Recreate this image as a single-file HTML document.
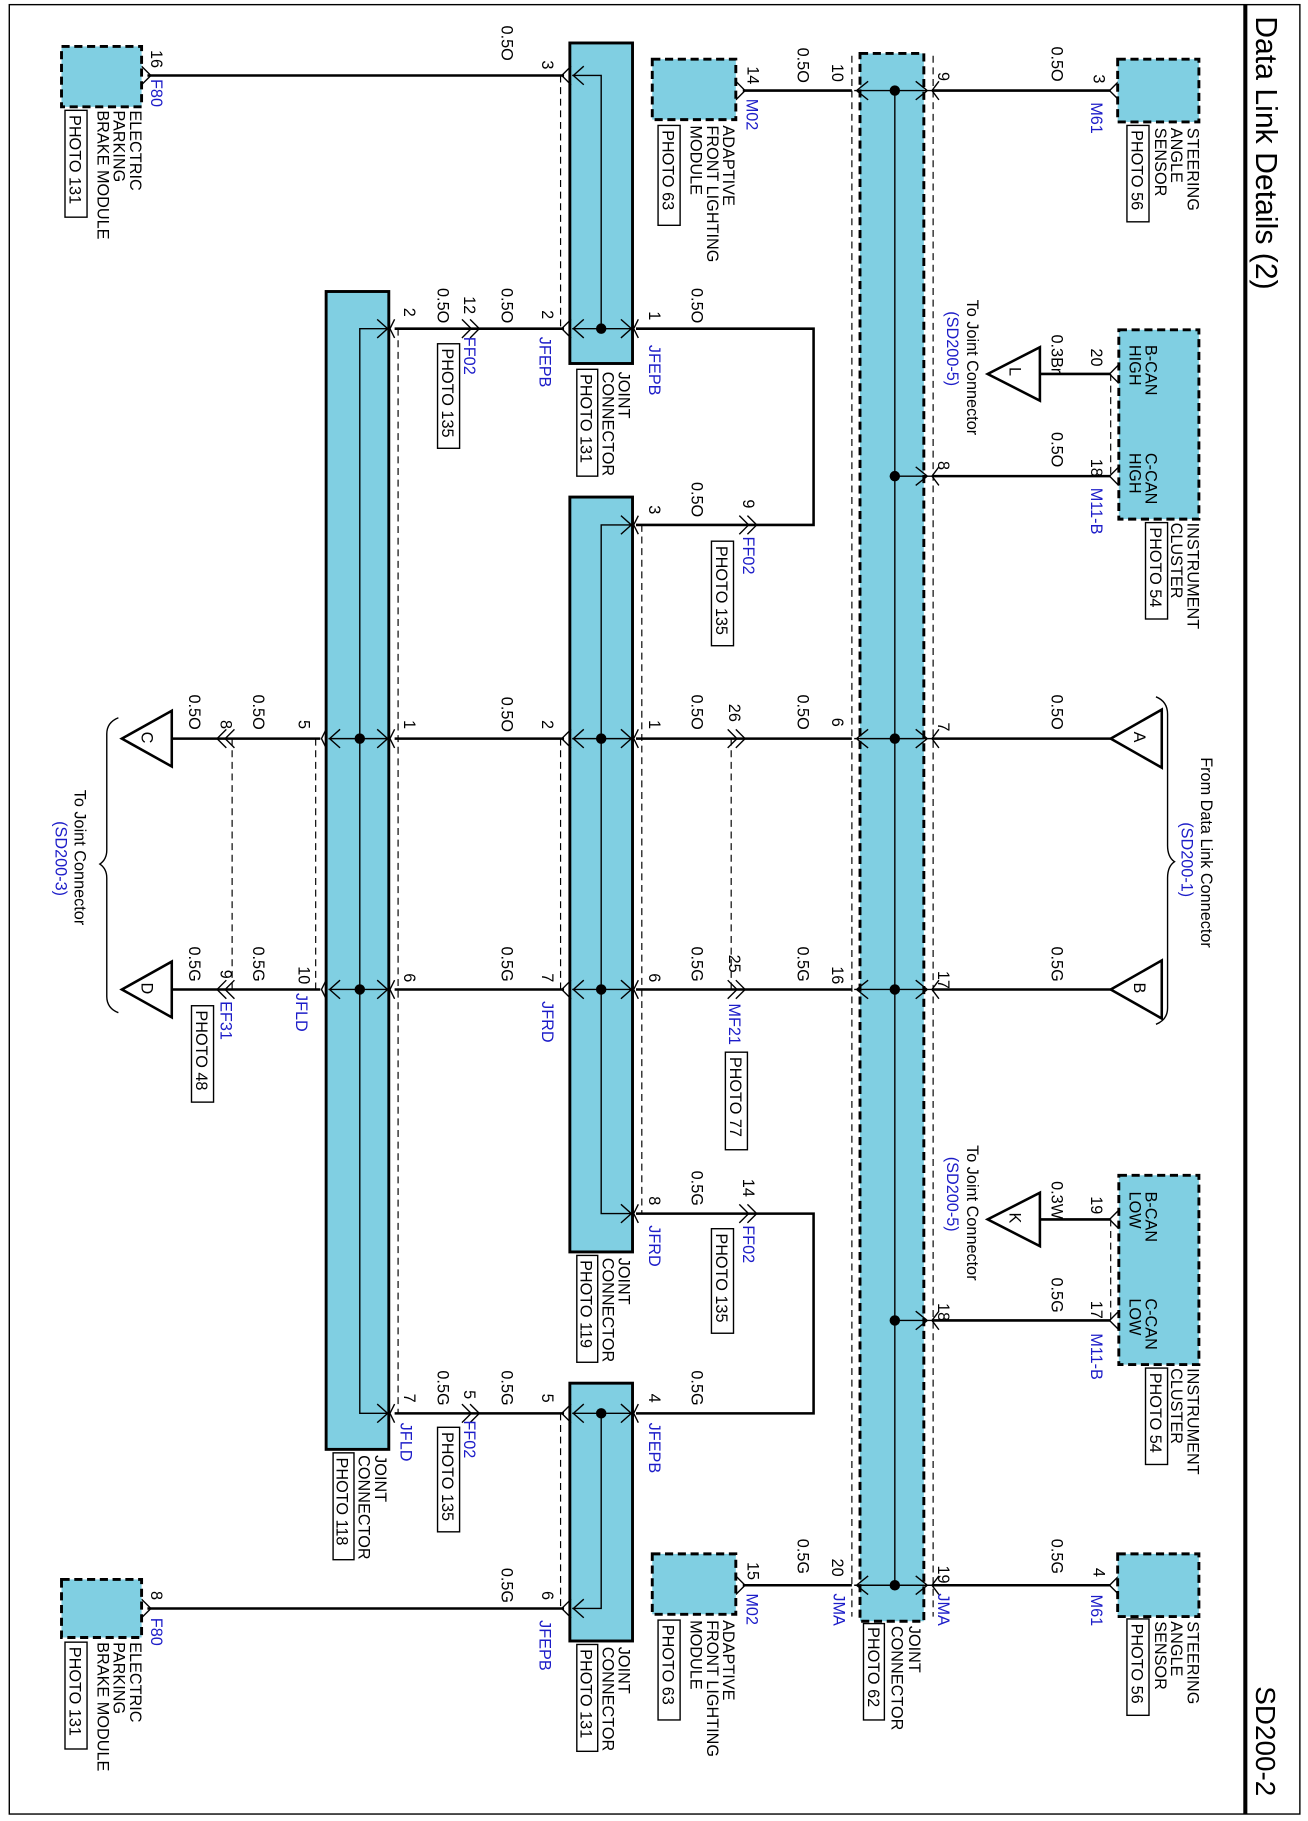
<!DOCTYPE html>
<html><head><meta charset="utf-8"><style>
html,body{margin:0;padding:0;background:#fff}
svg{display:block}
text{font-family:"Liberation Sans",Arial,sans-serif;font-size:14px;fill:#000}
.b{fill:#1c1cc8}
.ti{font-size:26px}
.ti2{font-size:24px}
.w{stroke:#000;stroke-width:2.2;fill:none}
.tn{stroke:#000;stroke-width:1.2;fill:none}
.d{stroke:#000;stroke-width:1;stroke-dasharray:6 4;fill:none}
.cb{fill:#80cfe2;stroke:#000;stroke-width:2.5}
.cd{fill:#80cfe2;stroke:#000;stroke-width:2.5;stroke-dasharray:7 4}
.pb{fill:#fff;stroke:#000;stroke-width:1.2}
.tri{fill:#fff;stroke:#000;stroke-width:2.2}
</style></head><body>
<svg width="1308" height="1821" viewBox="0 0 1127 1568" preserveAspectRatio="none" xmlns="http://www.w3.org/2000/svg">
<rect x="8" y="4" width="1112" height="1558" fill="none" stroke="#000" stroke-width="1.2"/>
<line x1="1073" y1="4" x2="1073" y2="1562" stroke="#000" stroke-width="3.5"/>
<text class="ti" transform="translate(1082,14) rotate(90)">Data Link Details (2)</text>
<text class="ti2" transform="translate(1082,1452) rotate(90)">SD200-2</text>

<!-- JMA block -->
<line class="d" x1="734" y1="48" x2="734" y2="1392"/>
<line class="d" x1="804" y1="48" x2="804" y2="1392"/>
<rect class="cd" x="741" y="46" width="55" height="1350"/>
<line class="tn" x1="771" y1="78" x2="771" y2="1365"/>
<g class="tn">
<path d="M736 78H803 M748 70L738 78L748 86 M789 70L799 78L789 86"/>
<path d="M771 410H803 M789 402L799 410L789 418"/>
<path d="M736 636H803 M748 628L738 636L748 644 M789 628L799 636L789 644"/>
<path d="M736 852H803 M748 844L738 852L748 860 M789 844L799 852L789 860"/>
<path d="M771 1137H803 M789 1129L799 1137L789 1145"/>
<path d="M736 1365H803 M748 1357L738 1365L748 1373 M789 1357L799 1365L789 1373"/>
</g>
<g fill="#000"><circle cx="771" cy="78" r="4.5"/><circle cx="771" cy="410" r="4.5"/><circle cx="771" cy="636" r="4.5"/><circle cx="771" cy="852" r="4.5"/><circle cx="771" cy="1137" r="4.5"/><circle cx="771" cy="1365" r="4.5"/></g>
<text transform="translate(783,1400) rotate(90)">JOINT</text>
<text transform="translate(768,1400) rotate(90)">CONNECTOR</text>
<rect class="pb" x="744" y="1398" width="18" height="83"/>
<text transform="translate(748,1401) rotate(90)">PHOTO 62</text>
<text class="b" transform="translate(718,1372) rotate(90)">JMA</text>
<text class="b" transform="translate(808,1372) rotate(90)">JMA</text>

<!-- right side wires -->
<g class="w">
<path d="M803 78H957"/><path d="M803 410H957"/><path d="M803 636H957"/><path d="M803 852H957"/><path d="M803 1137H957"/><path d="M803 1365H957"/>
<path d="M896 322H957"/><path d="M896 1050H957"/>
</g>
<g class="tn"><path d="M964 70L956 78L964 86"/><path d="M964 402L956 410L964 418"/><path d="M964 314L956 322L964 330"/><path d="M964 1129L956 1137L964 1145"/><path d="M964 1042L956 1050L964 1058"/><path d="M964 1357L956 1365L964 1373"/>
<path d="M809 70L803 78L809 86"/><path d="M809 402L803 410L809 418"/><path d="M809 628L803 636L809 644"/><path d="M809 844L803 852L809 860"/><path d="M809 1129L803 1137L809 1145"/><path d="M809 1357L803 1365L809 1373"/></g>
<line class="d" x1="957" y1="322" x2="957" y2="410"/>
<line class="d" x1="957" y1="1050" x2="957" y2="1137"/>
<text transform="translate(808,62) rotate(90)">9</text>
<text transform="translate(906,40) rotate(90)">0.5O</text>
<text transform="translate(942,64) rotate(90)">3</text>
<text class="b" transform="translate(940,88) rotate(90)">M61</text>
<rect class="cd" x="963" y="51" width="70" height="54"/>
<text transform="translate(1023,110) rotate(90)">STEERING</text>
<text transform="translate(1009,110) rotate(90)">ANGLE</text>
<text transform="translate(995,110) rotate(90)">SENSOR</text>
<rect class="pb" x="971" y="108" width="19" height="83"/>
<text transform="translate(975,112) rotate(90)">PHOTO 56</text>

<rect class="cd" x="964" y="284" width="69" height="163"/>
<text transform="translate(987,297) rotate(90)">B-CAN</text>
<text transform="translate(973,297) rotate(90)">HIGH</text>
<text transform="translate(987,390) rotate(90)">C-CAN</text>
<text transform="translate(973,390) rotate(90)">HIGH</text>
<text transform="translate(1023,450) rotate(90)">INSTRUMENT</text>
<text transform="translate(1009,450) rotate(90)">CLUSTER</text>
<rect class="pb" x="987" y="450" width="19" height="83"/>
<text transform="translate(991,454) rotate(90)">PHOTO 54</text>
<text transform="translate(940,300) rotate(90)">20</text>
<text transform="translate(906,288) rotate(90)">0.3Br</text>
<text transform="translate(940,395) rotate(90)">18</text>
<text class="b" transform="translate(940,420) rotate(90)">M11-B</text>
<text transform="translate(808,397) rotate(90)">8</text>
<text transform="translate(906,372) rotate(90)">0.5O</text>
<polygon class="tri" points="896,299 896,345 851,322"/>
<text transform="translate(870,316) rotate(90)">L</text>
<text transform="translate(833,258) rotate(90)">To Joint Connector</text>
<text class="b" transform="translate(816,268) rotate(90)">(SD200-5)</text>

<text transform="translate(808,622) rotate(90)">7</text>
<text transform="translate(906,598) rotate(90)">0.5O</text>
<polygon class="tri" points="1001,611 1001,661 957,636"/>
<text transform="translate(977,630) rotate(90)">A</text>
<text transform="translate(808,836) rotate(90)">17</text>
<text transform="translate(906,815) rotate(90)">0.5G</text>
<polygon class="tri" points="1001,827 1001,877 957,852"/>
<text transform="translate(977,846) rotate(90)">B</text>
<path class="tn" d="M996 600Q1006 604 1006 615V728Q1006 738 1012 742Q1006 746 1006 756V868Q1006 878 996 882"/>
<text transform="translate(1035,652) rotate(90)">From Data Link Connector</text>
<text class="b" transform="translate(1018,708) rotate(90)">(SD200-1)</text>

<rect class="cd" x="964" y="1012" width="69" height="163"/>
<text transform="translate(987,1026) rotate(90)">B-CAN</text>
<text transform="translate(973,1026) rotate(90)">LOW</text>
<text transform="translate(987,1118) rotate(90)">C-CAN</text>
<text transform="translate(973,1118) rotate(90)">LOW</text>
<text transform="translate(1023,1178) rotate(90)">INSTRUMENT</text>
<text transform="translate(1009,1178) rotate(90)">CLUSTER</text>
<rect class="pb" x="987" y="1178" width="19" height="83"/>
<text transform="translate(991,1182) rotate(90)">PHOTO 54</text>
<text transform="translate(940,1030) rotate(90)">19</text>
<text transform="translate(906,1017) rotate(90)">0.3W</text>
<text transform="translate(940,1120) rotate(90)">17</text>
<text class="b" transform="translate(940,1148) rotate(90)">M11-B</text>
<text transform="translate(808,1122) rotate(90)">18</text>
<text transform="translate(906,1100) rotate(90)">0.5G</text>
<polygon class="tri" points="896,1027 896,1073 851,1050"/>
<text transform="translate(870,1044) rotate(90)">K</text>
<text transform="translate(833,986) rotate(90)">To Joint Connector</text>
<text class="b" transform="translate(816,996) rotate(90)">(SD200-5)</text>

<text transform="translate(808,1348) rotate(90)">19</text>
<text transform="translate(906,1325) rotate(90)">0.5G</text>
<text transform="translate(942,1350) rotate(90)">4</text>
<text class="b" transform="translate(940,1373) rotate(90)">M61</text>
<rect class="cd" x="963" y="1338" width="70" height="54"/>
<text transform="translate(1023,1396) rotate(90)">STEERING</text>
<text transform="translate(1009,1396) rotate(90)">ANGLE</text>
<text transform="translate(995,1396) rotate(90)">SENSOR</text>
<rect class="pb" x="971" y="1394" width="19" height="83"/>
<text transform="translate(975,1398) rotate(90)">PHOTO 56</text>

<!-- left of JMA -->
<g class="w"><path d="M640 78H734"/><path d="M548 636H734"/><path d="M548 852H734"/><path d="M640 1365H734"/>
<path d="M548 283H701V452H548"/><path d="M548 1045H701V1217H548"/></g>
<g class="tn"><path d="M634 70L642 78L634 86"/><path d="M634 1357L642 1365L634 1373"/>
<path d="M627 628L635 636L627 644M634 628L642 636L634 644"/><path d="M627 844L635 852L627 860M634 844L642 852L634 860"/>
<path d="M637 444L645 452L637 460M644 444L652 452L644 460"/><path d="M637 1037L645 1045L637 1053M644 1037L652 1045L644 1053"/></g>
<line class="d" x1="630" y1="636" x2="630" y2="852"/>
<rect class="cd" x="562" y="51" width="72" height="52"/>
<text transform="translate(623,108) rotate(90)">ADAPTIVE</text>
<text transform="translate(609,108) rotate(90)">FRONT LIGHTING</text>
<text transform="translate(595,108) rotate(90)">MODULE</text>
<rect class="pb" x="567" y="108" width="19" height="86"/>
<text transform="translate(571,112) rotate(90)">PHOTO 63</text>
<text transform="translate(644,57) rotate(90)">14</text>
<text class="b" transform="translate(643,85) rotate(90)">M02</text>
<text transform="translate(687,41) rotate(90)">0.5O</text>
<text transform="translate(717,55) rotate(90)">10</text>

<text transform="translate(717,618) rotate(90)">6</text>
<text transform="translate(687,598) rotate(90)">0.5O</text>
<text transform="translate(628,606) rotate(90)">26</text>
<text transform="translate(596,598) rotate(90)">0.5O</text>
<text transform="translate(559,620) rotate(90)">1</text>
<text transform="translate(717,832) rotate(90)">16</text>
<text transform="translate(687,815) rotate(90)">0.5G</text>
<text transform="translate(628,822) rotate(90)">25</text>
<text class="b" transform="translate(628,864) rotate(90)">MF21</text>
<rect class="pb" x="625" y="906" width="19" height="84"/>
<text transform="translate(629,910) rotate(90)">PHOTO 77</text>
<text transform="translate(596,815) rotate(90)">0.5G</text>
<text transform="translate(559,838) rotate(90)">6</text>

<rect class="cd" x="562" y="1338" width="72" height="52"/>
<text transform="translate(623,1395) rotate(90)">ADAPTIVE</text>
<text transform="translate(609,1395) rotate(90)">FRONT LIGHTING</text>
<text transform="translate(595,1395) rotate(90)">MODULE</text>
<rect class="pb" x="567" y="1395" width="19" height="86"/>
<text transform="translate(571,1399) rotate(90)">PHOTO 63</text>
<text transform="translate(644,1345) rotate(90)">15</text>
<text class="b" transform="translate(643,1372) rotate(90)">M02</text>
<text transform="translate(687,1325) rotate(90)">0.5G</text>
<text transform="translate(717,1342) rotate(90)">20</text>

<text transform="translate(559,268) rotate(90)">1</text>
<text transform="translate(596,248) rotate(90)">0.5O</text>
<text class="b" transform="translate(559,297) rotate(90)">JFEPB</text>
<text transform="translate(559,435) rotate(90)">3</text>
<text transform="translate(596,415) rotate(90)">0.5O</text>
<text transform="translate(640,430) rotate(90)">9</text>
<text class="b" transform="translate(640,462) rotate(90)">FF02</text>
<rect class="pb" x="613" y="466" width="19" height="90"/>
<text transform="translate(617,470) rotate(90)">PHOTO 135</text>
<text transform="translate(559,1030) rotate(90)">8</text>
<text transform="translate(596,1008) rotate(90)">0.5G</text>
<text transform="translate(640,1015) rotate(90)">14</text>
<text class="b" transform="translate(640,1055) rotate(90)">FF02</text>
<text class="b" transform="translate(559,1055) rotate(90)">JFRD</text>
<rect class="pb" x="613" y="1058" width="19" height="90"/>
<text transform="translate(617,1062) rotate(90)">PHOTO 135</text>
<text transform="translate(559,1200) rotate(90)">4</text>
<text transform="translate(596,1180) rotate(90)">0.5G</text>
<text class="b" transform="translate(559,1225) rotate(90)">JFEPB</text>

<!-- block 2 -->
<line class="d" x1="483" y1="65" x2="483" y2="283"/>
<rect class="cb" x="491" y="37" width="54" height="276"/>
<path class="tn" d="M493 65H518V283 M493 283H545 M503 57L494 65L503 73 M503 275L494 283L503 291 M535 275L544 283L535 291"/>
<circle cx="518" cy="283" r="4.5"/>
<text transform="translate(533,320) rotate(90)">JOINT</text>
<text transform="translate(519,320) rotate(90)">CONNECTOR</text>
<rect class="pb" x="497" y="318" width="18" height="92"/>
<text transform="translate(500,322) rotate(90)">PHOTO 131</text>

<!-- block 3 -->
<line class="d" x1="553" y1="452" x2="553" y2="1045"/>
<line class="d" x1="483" y1="636" x2="483" y2="852"/>
<rect class="cb" x="491" y="428" width="54" height="650"/>
<path class="tn" d="M545 452H518V1045H545 M535 444L544 452L535 460 M535 1037L544 1045L535 1053 M493 636H545 M493 852H545 M503 628L494 636L503 644 M535 628L544 636L535 644 M503 844L494 852L503 860 M535 844L544 852L535 860"/>
<circle cx="518" cy="636" r="4.5"/><circle cx="518" cy="852" r="4.5"/>
<text transform="translate(533,1083) rotate(90)">JOINT</text>
<text transform="translate(519,1083) rotate(90)">CONNECTOR</text>
<rect class="pb" x="497" y="1081" width="18" height="92"/>
<text transform="translate(500,1085) rotate(90)">PHOTO 119</text>

<!-- block 5 -->
<line class="d" x1="483" y1="1217" x2="483" y2="1385"/>
<rect class="cb" x="491" y="1191" width="54" height="222"/>
<path class="tn" d="M493 1217H545 M518 1217V1385H493 M503 1209L494 1217L503 1225 M535 1209L544 1217L535 1225 M503 1377L494 1385L503 1393"/>
<circle cx="518" cy="1217" r="4.5"/>
<text transform="translate(533,1418) rotate(90)">JOINT</text>
<text transform="translate(519,1418) rotate(90)">CONNECTOR</text>
<rect class="pb" x="497" y="1416" width="18" height="92"/>
<text transform="translate(500,1420) rotate(90)">PHOTO 131</text>

<!-- block 4 -->
<line class="d" x1="343" y1="283" x2="343" y2="1217"/>
<line class="d" x1="272" y1="636" x2="272" y2="852"/>
<rect class="cb" x="281" y="251" width="54" height="997"/>
<path class="tn" d="M335 283H310V1217H335 M325 275L334 283L325 291 M325 1209L334 1217L325 1225 M283 636H335 M283 852H335 M293 628L284 636L293 644 M325 628L334 636L325 644 M293 844L284 852L293 860 M325 844L334 852L325 860"/>
<circle cx="310" cy="636" r="4.5"/><circle cx="310" cy="852" r="4.5"/>
<text transform="translate(323,1253) rotate(90)">JOINT</text>
<text transform="translate(309,1253) rotate(90)">CONNECTOR</text>
<rect class="pb" x="287" y="1251" width="18" height="92"/>
<text transform="translate(290,1255) rotate(90)">PHOTO 118</text>

<!-- wires between blocks -->
<g class="w"><path d="M127 65H486"/><path d="M340 283H486"/><path d="M340 636H486"/><path d="M340 852H486"/><path d="M340 1217H486"/><path d="M127 1385H486"/>
<path d="M148 636H276"/><path d="M148 852H276"/></g>
<g class="tn">
<path d="M492 57L484 65L492 73"/><path d="M492 275L484 283L492 291"/><path d="M492 628L484 636L492 644"/><path d="M492 844L484 852L492 860"/><path d="M492 1209L484 1217L492 1225"/><path d="M492 1377L484 1385L492 1393"/>
<path d="M550 275L546 283L550 291"/><path d="M550 444L546 452L550 460"/><path d="M550 628L546 636L550 644"/><path d="M550 844L546 852L550 860"/><path d="M550 1037L546 1045L550 1053"/><path d="M550 1209L546 1217L550 1225"/>
<path d="M340 275L336 283L340 291"/><path d="M340 628L336 636L340 644"/><path d="M340 844L336 852L340 860"/><path d="M340 1209L336 1217L340 1225"/>
<path d="M281 628L277 636L281 644"/><path d="M281 844L277 852L281 860"/>
<path d="M398 275L406 283L398 291M405 275L413 283L405 291"/><path d="M398 1209L406 1217L398 1225M405 1209L413 1217L405 1225"/>
<path d="M202 628L194 636L202 644M195 628L187 636L195 644"/><path d="M202 844L194 852L202 860M195 844L187 852L195 860"/>
<path d="M122 57L130 65L122 73"/><path d="M122 1377L130 1385L122 1393"/>
</g>
<line class="d" x1="200" y1="636" x2="200" y2="852"/>

<text transform="translate(467,52) rotate(90)">3</text>
<text transform="translate(432,22) rotate(90)">0.5O</text>
<text transform="translate(130,43) rotate(90)">16</text>
<text class="b" transform="translate(130,68) rotate(90)">F80</text>
<rect class="cd" x="53" y="40" width="69" height="52"/>
<text transform="translate(112,95) rotate(90)">ELECTRIC</text>
<text transform="translate(98,95) rotate(90)">PARKING</text>
<text transform="translate(84,95) rotate(90)">BRAKE MODULE</text>
<rect class="pb" x="56" y="95" width="19" height="92"/>
<text transform="translate(60,99) rotate(90)">PHOTO 131</text>

<text transform="translate(467,267) rotate(90)">2</text>
<text class="b" transform="translate(465,290) rotate(90)">JFEPB</text>
<text transform="translate(432,248) rotate(90)">0.5O</text>
<text transform="translate(400,255) rotate(90)">12</text>
<text class="b" transform="translate(400,290) rotate(90)">FF02</text>
<rect class="pb" x="377" y="296" width="19" height="90"/>
<text transform="translate(381,300) rotate(90)">PHOTO 135</text>
<text transform="translate(377,248) rotate(90)">0.5O</text>
<text transform="translate(348,265) rotate(90)">2</text>

<text transform="translate(467,620) rotate(90)">2</text>
<text transform="translate(432,600) rotate(90)">0.5O</text>
<text transform="translate(348,620) rotate(90)">1</text>
<text transform="translate(467,838) rotate(90)">7</text>
<text transform="translate(432,815) rotate(90)">0.5G</text>
<text class="b" transform="translate(467,862) rotate(90)">JFRD</text>
<text transform="translate(348,838) rotate(90)">6</text>

<text transform="translate(467,1200) rotate(90)">5</text>
<text transform="translate(432,1180) rotate(90)">0.5G</text>
<text transform="translate(400,1197) rotate(90)">5</text>
<text class="b" transform="translate(400,1223) rotate(90)">FF02</text>
<rect class="pb" x="377" y="1229" width="19" height="90"/>
<text transform="translate(381,1233) rotate(90)">PHOTO 135</text>
<text transform="translate(377,1180) rotate(90)">0.5G</text>
<text transform="translate(348,1200) rotate(90)">7</text>
<text class="b" transform="translate(345,1225) rotate(90)">JFLD</text>

<text transform="translate(467,1370) rotate(90)">6</text>
<text class="b" transform="translate(465,1395) rotate(90)">JFEPB</text>
<text transform="translate(432,1350) rotate(90)">0.5G</text>
<text transform="translate(130,1370) rotate(90)">8</text>
<text class="b" transform="translate(130,1393) rotate(90)">F80</text>
<rect class="cd" x="53" y="1360" width="69" height="50"/>
<text transform="translate(112,1414) rotate(90)">ELECTRIC</text>
<text transform="translate(98,1414) rotate(90)">PARKING</text>
<text transform="translate(84,1414) rotate(90)">BRAKE MODULE</text>
<rect class="pb" x="56" y="1414" width="19" height="92"/>
<text transform="translate(60,1418) rotate(90)">PHOTO 131</text>

<text transform="translate(257,620) rotate(90)">5</text>
<text transform="translate(218,598) rotate(90)">0.5O</text>
<text transform="translate(190,620) rotate(90)">8</text>
<text transform="translate(163,598) rotate(90)">0.5O</text>
<polygon class="tri" points="148,612 148,660 105,636"/>
<text transform="translate(122,630) rotate(90)">C</text>
<text transform="translate(257,832) rotate(90)">10</text>
<text class="b" transform="translate(255,855) rotate(90)">JFLD</text>
<text transform="translate(218,815) rotate(90)">0.5G</text>
<text transform="translate(190,835) rotate(90)">9</text>
<text class="b" transform="translate(190,862) rotate(90)">EF31</text>
<rect class="pb" x="165" y="866" width="19" height="83"/>
<text transform="translate(169,870) rotate(90)">PHOTO 48</text>
<text transform="translate(163,815) rotate(90)">0.5G</text>
<polygon class="tri" points="148,828 148,876 105,852"/>
<text transform="translate(122,846) rotate(90)">D</text>
<path class="tn" d="M102 618Q92 622 92 632V732Q92 740 86 744Q92 748 92 756V858Q92 868 102 872"/>
<text transform="translate(64,680) rotate(90)">To Joint Connector</text>
<text class="b" transform="translate(48,707) rotate(90)">(SD200-3)</text>
</svg>
</body></html>
